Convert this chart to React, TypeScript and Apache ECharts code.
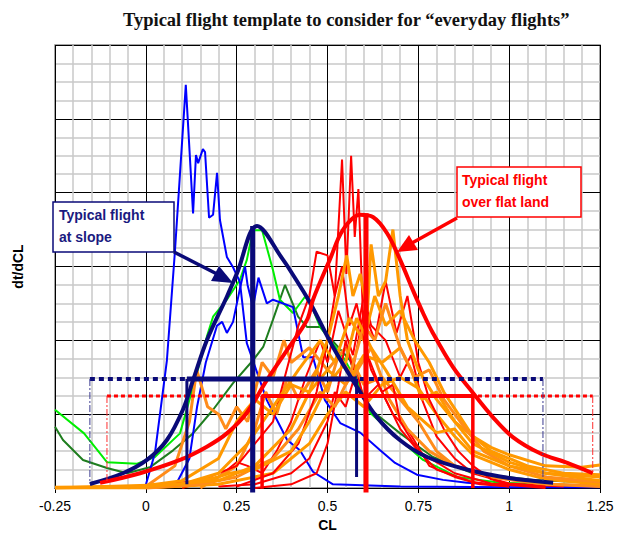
import React, { useEffect, useRef } from "react";
import * as echarts from "echarts";

// ---------- data (x = CL, y = dt/dCL) ----------
const blueSpike = [[-0.002,0.01],[0.025,0.47],[0.058,1.73],[0.08,3.2],[0.11,5.46],[0.13,3.72],[0.138,4.51],[0.144,4.4],[0.157,4.59],[0.163,4.55],[0.174,3.66],[0.185,3.7],[0.196,4.27],[0.204,3.63],[0.223,3.13],[0.24,2.99],[0.259,2.79],[0.278,1.96],[0.333,1.19],[0.389,0.65],[0.424,0.51],[0.46,0.22],[0.515,0.05],[0.7,0.02],[1.0,0.01],[1.25,0.01]];
const blueSecond = [[0.08,0.02],[0.12,0.4],[0.141,1.1],[0.165,1.7],[0.196,2.2],[0.21,2.25],[0.223,2.1],[0.24,2.25],[0.259,2.7],[0.273,3.0],[0.28,2.75],[0.295,2.45],[0.31,2.85],[0.333,2.5],[0.35,2.55],[0.405,2.45],[0.433,1.77],[0.46,1.77],[0.493,1.19],[0.535,0.88],[0.59,0.75],[0.645,0.51],[0.686,0.34],[0.746,0.18],[0.818,0.11],[0.884,0.07],[0.975,0.04],[1.25,0.02]];
const limeCurve = [[-0.25,1.06],[-0.17,0.74],[-0.107,0.35],[-0.024,0.33],[0.025,0.42],[0.094,0.74],[0.141,1.56],[0.168,2.05],[0.185,2.32],[0.223,2.55],[0.259,2.82],[0.278,3.09],[0.295,3.49],[0.32,3.49],[0.35,2.95],[0.369,2.55],[0.405,2.37],[0.438,2.59],[0.452,2.51],[0.48,2.18],[0.543,1.77],[0.59,1.37],[0.617,1.02],[0.691,0.69],[0.763,0.38],[0.857,0.15],[0.975,0.07],[1.25,0.03]];
const darkGreenCurve = [[-0.25,0.83],[-0.228,0.65],[-0.173,0.38],[-0.107,0.27],[-0.052,0.2],[0.011,0.28],[0.075,0.51],[0.13,0.74],[0.185,1.06],[0.24,1.42],[0.295,1.73],[0.323,1.91],[0.35,2.28],[0.383,2.75],[0.419,2.32],[0.444,2.18],[0.48,2.18],[0.562,1.73],[0.609,1.1],[0.7,0.74],[0.79,0.42],[0.9,0.2],[1.066,0.11],[1.25,0.07]];

const redThin1 = [[0.25,0.02],[0.35,0.2],[0.42,0.6],[0.47,1.3],[0.5,2.0],[0.52,2.6],[0.54,4.45],[0.552,2.9],[0.565,4.5],[0.575,3.4],[0.585,4.05],[0.6,2.0],[0.62,1.6],[0.65,1.3],[0.68,1.4],[0.7,0.9],[0.75,0.5],[0.8,0.25],[0.9,0.08],[1.0,0.02]];
const redThin2 = [[0.0,0.02],[0.15,0.1],[0.25,0.3],[0.35,0.9],[0.42,2.2],[0.45,2.6],[0.47,3.2],[0.5,3.15],[0.52,2.6],[0.54,3.0],[0.56,2.2],[0.58,2.5],[0.61,1.8],[0.65,1.3],[0.7,0.8],[0.75,0.5],[0.85,0.2],[0.95,0.06],[1.1,0.02]];
const redThin3 = [[0.1,0.0],[0.2,0.15],[0.25,0.35],[0.28,0.3],[0.32,0.2],[0.36,0.5],[0.4,0.9],[0.44,1.5],[0.48,2.0],[0.5,1.7],[0.53,2.4],[0.57,1.8],[0.6,2.6],[0.62,2.2],[0.66,2.0],[0.7,1.5],[0.73,1.8],[0.76,1.2],[0.8,0.7],[0.85,0.4],[0.9,0.2],[1.0,0.06],[1.15,0.02]];
const redThin4 = [[0.3,0.0],[0.4,0.05],[0.47,0.2],[0.5,0.6],[0.53,1.4],[0.55,2.0],[0.57,1.6],[0.6,2.4],[0.63,2.0],[0.66,2.8],[0.69,2.1],[0.72,2.6],[0.75,1.7],[0.78,1.2],[0.82,0.8],[0.86,0.5],[0.9,0.3],[0.95,0.12],[1.0,0.04],[1.1,0.0]];
const redThin5 = [[0.2,0.02],[0.3,0.05],[0.4,0.2],[0.45,0.4],[0.5,0.9],[0.52,1.3],[0.55,1.1],[0.58,1.6],[0.6,1.2],[0.64,1.4],[0.68,1.0],[0.72,0.8],[0.78,0.3],[0.85,0.15],[0.92,0.05],[1.0,0.02]];

const orange1 = [[-0.25,0.0],[0.0,0.02],[0.2,0.1],[0.3,0.3],[0.4,0.8],[0.45,1.3],[0.5,2.0],[0.53,2.6],[0.553,3.15],[0.57,2.6],[0.59,2.9],[0.61,2.4],[0.62,3.3],[0.64,2.6],[0.66,2.8],[0.68,3.5],[0.7,2.6],[0.72,2.0],[0.75,1.6],[0.8,1.2],[0.85,0.9],[0.9,0.6],[1.0,0.35],[1.1,0.2],[1.25,0.1]];
const orange2 = [[-0.25,0.0],[0.1,0.05],[0.2,0.2],[0.28,0.6],[0.35,1.1],[0.42,1.6],[0.48,2.0],[0.52,1.7],[0.56,2.3],[0.6,2.0],[0.63,2.6],[0.66,2.2],[0.7,2.4],[0.74,2.0],[0.78,1.7],[0.82,1.3],[0.86,1.0],[0.9,0.7],[0.95,0.5],[1.05,0.3],[1.15,0.2],[1.25,0.18]];
const orange3 = [[0.0,0.02],[0.08,0.3],[0.12,0.9],[0.14,1.6],[0.17,1.1],[0.2,1.0],[0.22,0.8],[0.25,1.1],[0.28,0.9],[0.32,1.7],[0.35,1.5],[0.38,2.0],[0.4,1.7],[0.45,1.9],[0.5,1.6],[0.55,1.9],[0.6,1.4],[0.65,1.5],[0.7,1.2],[0.75,0.9],[0.8,0.5],[0.85,0.3],[0.95,0.15],[1.1,0.05],[1.25,0.02]];
const orange4 = [[-0.05,0.0],[0.1,0.1],[0.2,0.4],[0.25,0.9],[0.3,1.2],[0.35,1.0],[0.4,1.4],[0.45,1.3],[0.5,1.6],[0.55,1.4],[0.6,1.8],[0.65,1.7],[0.7,1.9],[0.73,1.6],[0.76,1.2],[0.8,1.3],[0.85,0.9],[0.9,0.7],[0.95,0.55],[1.0,0.45],[1.1,0.3],[1.2,0.28],[1.25,0.31]];
const orange5 = [[0.0,0.0],[0.15,0.05],[0.25,0.15],[0.35,0.4],[0.42,0.8],[0.48,1.3],[0.52,1.1],[0.56,1.5],[0.6,2.2],[0.63,2.0],[0.66,2.5],[0.7,1.9],[0.74,1.5],[0.78,1.6],[0.82,1.2],[0.88,0.8],[0.93,0.5],[1.0,0.3],[1.1,0.15],[1.25,0.08]];
const orange6 = [[-0.25,0.0],[0.0,0.0],[0.2,0.05],[0.35,0.2],[0.45,0.6],[0.5,1.0],[0.55,1.3],[0.6,1.1],[0.65,1.4],[0.7,1.5],[0.75,1.35],[0.8,1.0],[0.85,0.7],[0.9,0.45],[1.0,0.25],[1.1,0.12],[1.25,0.05]];
const orange7 = [[-0.25,0.01],[0.0,0.02],[0.1,0.05],[0.2,0.15],[0.23,0.2],[0.3,0.25],[0.4,0.5],[0.45,0.9],[0.5,1.4],[0.55,1.7],[0.58,2.3],[0.62,1.9],[0.66,1.6],[0.72,1.1],[0.8,0.75],[0.85,0.8],[0.9,0.5],[1.0,0.3],[1.1,0.2],[1.25,0.15]];
const orange8 = [[0.15,0.0],[0.25,0.3],[0.3,0.8],[0.33,1.3],[0.36,1.0],[0.39,1.5],[0.42,1.2],[0.47,1.6],[0.5,1.3],[0.53,1.8],[0.57,1.5],[0.62,1.9],[0.67,1.2],[0.72,0.8],[0.78,0.5],[0.85,0.3],[0.95,0.15],[1.1,0.05],[1.25,0.03]];

const slopeBell = [[-0.154,0.054],[-0.063,0.2],[0.003,0.38],[0.058,0.65],[0.102,1.06],[0.13,1.46],[0.168,2.0],[0.223,2.59],[0.251,2.91],[0.306,3.55],[0.378,3.09],[0.397,2.95],[0.452,2.51],[0.515,1.91],[0.581,1.37],[0.636,0.96],[0.699,0.65],[0.774,0.42],[0.892,0.24],[1.0,0.135],[1.121,0.07]];
const flatBell = [[-0.126,0.07],[-0.016,0.2],[0.094,0.38],[0.168,0.56],[0.223,0.74],[0.278,1.02],[0.333,1.46],[0.389,1.87],[0.444,2.28],[0.46,2.55],[0.507,3.1],[0.543,3.5],[0.59,3.7],[0.625,3.67],[0.664,3.45],[0.7,3.09],[0.735,2.68],[0.763,2.37],[0.79,2.1],[0.845,1.64],[0.9,1.29],[0.955,0.96],[1.01,0.69],[1.085,0.47],[1.16,0.34],[1.23,0.2]];

// template guide lines
const slopeLevelDotted = [[-0.154,1.476],[1.093,1.476]];
const slopeLevelSolid = [[0.113,1.476],[0.58,1.476]];
const slopeCenter = [[0.294,3.55],[0.294,-0.06]];
const slopeSideL = [[0.113,1.476],[0.113,0.05]];
const slopeSideR = [[0.58,1.476],[0.58,0.15]];
const slopeEdgeL = [[-0.154,1.476],[-0.154,0.06]];
const slopeEdgeR = [[1.093,1.476],[1.093,0.09]];

const flatLevelDotted = [[-0.107,1.246],[1.23,1.246]];
const flatLevelSolid = [[0.32,1.246],[0.9,1.246]];
const flatCenter = [[0.606,3.72],[0.606,-0.06]];
const flatSideL = [[0.32,1.246],[0.32,-0.01]];
const flatSideR = [[0.9,1.246],[0.9,0.0]];
const flatEdgeL = [[-0.107,1.246],[-0.107,0.08]];
const flatEdgeR = [[1.23,1.246],[1.23,0.2]];

const NAVY = "#0a0a78";
const RED = "#ff0000";
const ORANGE = "#ff9900";
const ORANGE2 = "#ff8c1a";

function ln(data: number[][], color: string, width: number, extra: any = {}) {
  return {
    type: "line",
    data,
    showSymbol: false,
    symbol: "none",
    silent: true,
    lineStyle: { color, width, type: extra.dash || "solid", cap: "butt" },
    smooth: extra.smooth || false,
    clip: extra.clip === undefined ? true : extra.clip,
    z: extra.z || 2,
  };
}

export default function App() {
  const ref = useRef<HTMLDivElement>(null);
  useEffect(() => {
    if (!ref.current) return;
    const chart = echarts.init(ref.current, null, { renderer: "svg" });
    const option: any = {
      animation: false,
      title: {
        text: "Typical flight template to consider for \u201ceveryday flights\u201d",
        left: 118,
        top: 5,
        textStyle: { fontFamily: "Liberation Serif", fontWeight: "bold", fontSize: 18.5, color: "#111" },
      },
      grid: { left: 55, right: 17, top: 45, bottom: 64, show: true, borderColor: "#888", borderWidth: 1.5 },
      xAxis: {
        type: "value", min: -0.25, max: 1.25, interval: 0.25,
        axisLine: { show: true, onZero: false, lineStyle: { color: "#000", width: 1 } },
        axisTick: { show: true, length: 5, lineStyle: { color: "#000" } },
        axisLabel: { fontFamily: "Liberation Sans", fontSize: 14, color: "#000", margin: 11 },
        splitLine: { show: true, lineStyle: { color: "#000", width: 1 } },
        minorTick: { show: false, splitNumber: 5 },
        minorSplitLine: { show: true, lineStyle: { color: "#c8c8c8", width: 1.5 } },
        name: "CL", nameLocation: "middle", nameGap: 30,
        nameTextStyle: { fontFamily: "Liberation Sans", fontWeight: "bold", fontSize: 14, color: "#000" },
      },
      yAxis: {
        type: "value", min: 0, max: 6, interval: 1,
        axisLine: { show: false }, axisTick: { show: false }, axisLabel: { show: false },
        splitLine: { show: true, lineStyle: { color: "#000", width: 1 } },
        minorTick: { show: false, splitNumber: 4 },
        minorSplitLine: { show: true, lineStyle: { color: "#c8c8c8", width: 1.5 } },
        name: "dt/dCL", nameLocation: "middle", nameGap: 30, nameRotate: 90,
        nameTextStyle: { fontFamily: "Liberation Sans", fontWeight: "bold", fontSize: 14, color: "#000" },
      },
      series: [
        ln(darkGreenCurve, "#1e7d1e", 2),
        ln(limeCurve, "#00ee00", 2),
        ln(blueSecond, "#0000ff", 2),
        ln(blueSpike, "#0000ff", 2),
        ln(redThin3, RED, 2),
        ln(redThin5, RED, 2),
        ln(orange8, ORANGE2, 3),
        ln(orange3, ORANGE2, 3),
        ln(redThin2, RED, 2),
        ln(orange4, ORANGE, 3),
        ln(orange6, ORANGE, 3),
        ln(redThin4, RED, 2),
        ln(orange2, ORANGE, 3),
        ln(orange5, ORANGE2, 3),
        ln(redThin1, RED, 2),
        ln(orange7, ORANGE, 3),
        ln(orange1, ORANGE, 3),
        ln(slopeBell, NAVY, 4, { smooth: 0.35, z: 4 }),
        ln(flatBell, RED, 4, { smooth: 0.35, z: 4 }),
        ln(slopeLevelDotted, NAVY, 4, { dash: [5, 4], z: 5 }),
        ln(flatLevelDotted, RED, 3, { dash: [4, 3], z: 5 }),
        ln(slopeEdgeL, "#3a3a90", 1, { dash: [7, 2, 2, 2], z: 5 }),
        ln(slopeEdgeR, "#3a3a90", 1, { dash: [7, 2, 2, 2], z: 5 }),
        ln(flatEdgeL, "#ff3030", 1, { dash: [7, 2, 2, 2], z: 5 }),
        ln(flatEdgeR, "#ff3030", 1, { dash: [7, 2, 2, 2], z: 5 }),
        ln(slopeLevelSolid, NAVY, 5, { z: 6 }),
        ln(slopeSideL, NAVY, 3, { z: 6 }),
        ln(slopeSideR, NAVY, 3, { z: 6 }),
        ln(slopeCenter, NAVY, 5, { z: 6, clip: false }),
        ln(flatLevelSolid, RED, 4, { z: 6 }),
        ln(flatSideL, RED, 3.5, { z: 6, clip: false }),
        ln(flatSideR, RED, 3.5, { z: 6 }),
        ln(flatCenter, RED, 5, { z: 7, clip: false }),
      ],
      graphic: [
        { type: "rect", z: 100, shape: { x: 53, y: 202, width: 121, height: 50 }, style: { fill: "#fff", stroke: NAVY, lineWidth: 1.5 } },
        { type: "text", z: 101, x: 59, y: 204, style: { text: "Typical flight\nat slope", fill: "#1a1a80", font: "bold 14px 'Liberation Sans'", lineHeight: 22 } },
        { type: "line", z: 100, shape: { x1: 174, y1: 252, x2: 217, y2: 274 }, style: { stroke: NAVY, lineWidth: 3.5 } },
        { type: "polygon", z: 100, shape: { points: [[233, 283], [211, 281], [219, 266]] }, style: { fill: NAVY } },
        { type: "rect", z: 100, shape: { x: 457, y: 167, width: 124, height: 50 }, style: { fill: "#fff", stroke: RED, lineWidth: 1.5 } },
        { type: "text", z: 101, x: 462, y: 169, style: { text: "Typical flight\nover flat land", fill: RED, font: "bold 14px 'Liberation Sans'", lineHeight: 22 } },
        { type: "line", z: 100, shape: { x1: 457, y1: 218, x2: 412, y2: 243 }, style: { stroke: RED, lineWidth: 3.5 } },
        { type: "polygon", z: 100, shape: { points: [[397, 252], [409, 235], [418, 250]] }, style: { fill: RED } },
      ],
    };
    chart.setOption(option);
    return () => chart.dispose();
  }, []);
  return <div ref={ref} style={{ position: "fixed", left: 0, top: 0, width: 617, height: 552, background: "#fff" }} />;
}
